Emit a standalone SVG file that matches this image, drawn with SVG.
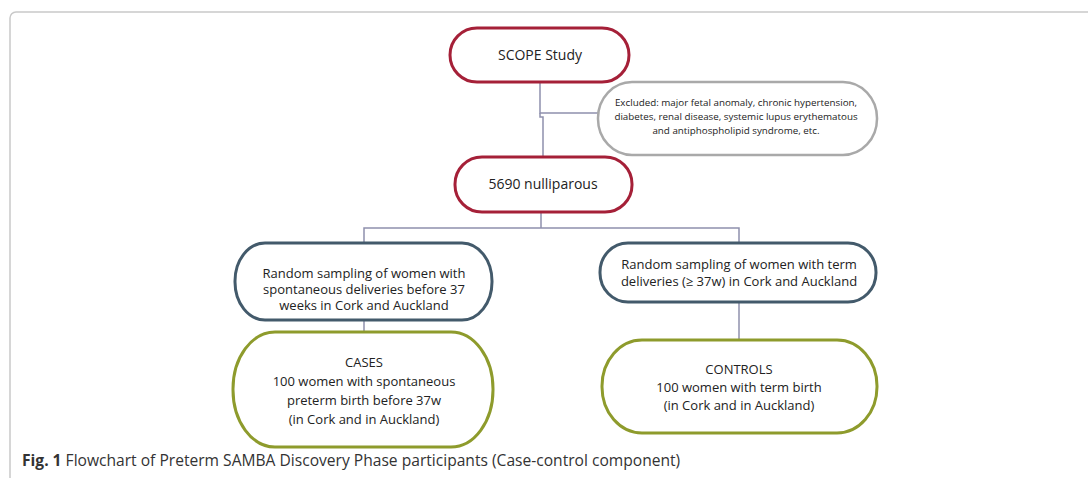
<svg xmlns="http://www.w3.org/2000/svg" width="1088" height="478" viewBox="0 0 1088 478">
<defs>
<style>
.frame{fill:#fff;stroke:#c9c9c9;stroke-width:1.5}
.red{fill:#fff;stroke:#a52038;stroke-width:3}
.grey{fill:#fff;stroke:#a9a9a9;stroke-width:2.5}
.blue{fill:#fff;stroke:#435a6b;stroke-width:3}
.green{fill:#fff;stroke:#8e9b2c;stroke-width:3}
.conn{fill:none;stroke:#8f90ad;stroke-width:1.5}
.t{font-family:"Open Sans","Liberation Sans",sans-serif;fill:#222;text-anchor:middle}
.big{font-size:14px}
.mid{font-size:13px}
.sm{font-size:9.8px}
.cap{font-family:"Open Sans","Liberation Sans",sans-serif;fill:#333;font-size:15.6px}
</style>
</defs>
<rect x="0" y="0" width="1088" height="478" fill="#fff"/>
<rect class="frame" x="10" y="12" width="1100" height="500" rx="6"/>
<g id="connectors">
<path class="conn" d="M540,82 V113 H598"/>
<path class="conn" d="M540,113 V117 H543 V157"/>
<path class="conn" d="M541,212 V228 M364,242 V228 H739 V243"/>
<path class="conn" d="M364,320 V332"/>
<path class="conn" d="M739,302 V340"/>
</g>
<g id="scope">
<rect class="red" x="450" y="28" width="179" height="54" rx="27" ry="27"/>
<text class="t big" x="540" y="60">SCOPE Study</text>
</g>
<g id="excluded">
<rect class="grey" x="598" y="82" width="279" height="73" rx="34" ry="36"/>
<text class="t sm" x="736" y="106">Excluded: major fetal anomaly, chronic hypertension,</text>
<text class="t sm" x="736" y="120">diabetes, renal disease, systemic lupus erythematous</text>
<text class="t sm" x="736" y="134">and antiphospholipid syndrome, etc.</text>
</g>
<g id="nulliparous">
<rect class="red" x="455" y="157" width="177" height="55" rx="27" ry="27"/>
<text class="t big" x="543" y="189">5690 nulliparous</text>
</g>
<g id="sampling-cases">
<rect class="blue" x="235" y="243" width="257" height="77" rx="30" ry="38"/>
<text class="t mid" x="364" y="278">Random sampling of women with</text>
<text class="t mid" x="364" y="294">spontaneous deliveries before 37</text>
<text class="t mid" x="364" y="310">weeks in Cork and Auckland</text>
</g>
<g id="sampling-controls">
<rect class="blue" x="600" y="243" width="276" height="59" rx="28" ry="29"/>
<text class="t mid" x="739" y="269">Random sampling of women with term</text>
<text class="t mid" x="739" y="286">deliveries (≥ 37w) in Cork and Auckland</text>
</g>
<g id="cases">
<rect class="green" x="233" y="332" width="260" height="115" rx="42" ry="57"/>
<text class="t mid" x="364" y="367">CASES</text>
<text class="t mid" x="364" y="386">100 women with spontaneous</text>
<text class="t mid" x="364" y="405">preterm birth before 37w</text>
<text class="t mid" x="364" y="424">(in Cork and in Auckland)</text>
</g>
<g id="controls">
<rect class="green" x="602" y="340" width="275" height="93" rx="40" ry="46"/>
<text class="t mid" x="739" y="374">CONTROLS</text>
<text class="t mid" x="739" y="392">100 women with term birth</text>
<text class="t mid" x="739" y="410">(in Cork and in Auckland)</text>
</g>
<text class="cap" x="22" y="466"><tspan font-weight="bold">Fig. 1</tspan> Flowchart of Preterm SAMBA Discovery Phase participants (Case-control component)</text>
</svg>
